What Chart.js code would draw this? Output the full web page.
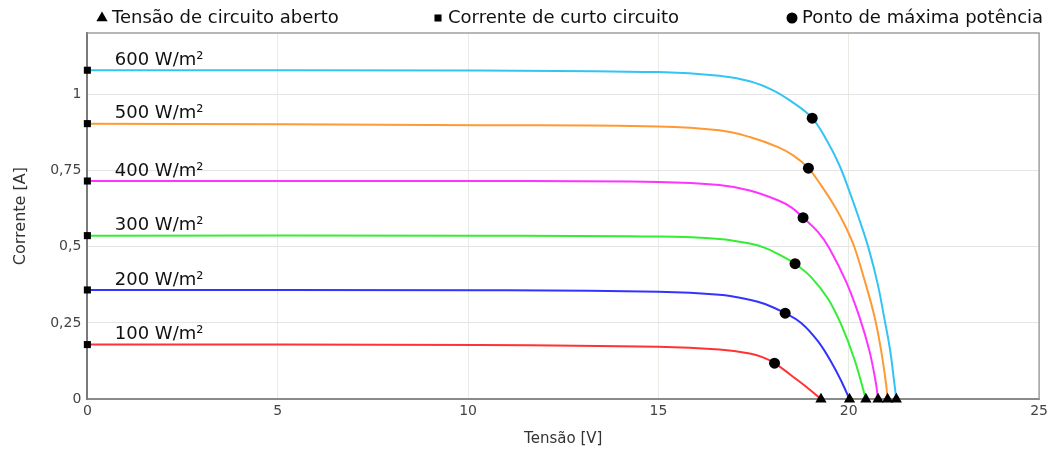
<!DOCTYPE html>
<html>
<head>
<meta charset="utf-8">
<script src="https://cdn.jsdelivr.net/npm/chart.js@4.4.1/dist/chart.umd.min.js"></script>
<style>
  html, body { margin: 0; padding: 0; background: #fff; }
  #wrap { width: 1052px; height: 454px; }
</style>
</head>
<body>
<div id="wrap"><canvas id="grafico"></canvas></div>
<script>
// curvas I-V
const irradiancias = ['100 W/m²', '200 W/m²', '300 W/m²', '400 W/m²', '500 W/m²', '600 W/m²'];
const cores = ['#ff3333', '#3333ff', '#33ee33', '#ff33ff', '#ff9933', '#33c4f5'];

const tensao100 = [0, 10.3, 15.0, 16.6, 17.4, 17.75, 18.05, 18.66, 19.01, 19.27];
const corrente100 = [0.179, 0.178, 0.172, 0.163, 0.15, 0.137, 0.118, 0.062, 0.028, 0];

const tensao200 = [0, 10.3, 15.0, 16.6, 17.4, 17.8, 18.33, 18.75, 19.19, 19.58, 19.84, 20.02];
const corrente200 = [0.358, 0.357, 0.352, 0.342, 0.326, 0.312, 0.282, 0.25, 0.19, 0.113, 0.05, 0];

const tensao300 = [0, 10.3, 15.0, 16.6, 17.4, 17.8, 18.14, 18.59, 19.01, 19.45, 19.8, 20.15, 20.45];
const corrente300 = [0.536, 0.536, 0.533, 0.525, 0.51, 0.496, 0.476, 0.444, 0.4, 0.33, 0.245, 0.13, 0];

const tensao400 = [0, 10.3, 15.0, 16.6, 17.4, 18.14, 18.5, 18.8, 19.19, 19.49, 19.93, 20.28, 20.54, 20.71, 20.77];
const corrente400 = [0.715, 0.715, 0.712, 0.702, 0.684, 0.652, 0.628, 0.595, 0.548, 0.495, 0.385, 0.27, 0.16, 0.055, 0];

const tensao500 = [0, 10.3, 15.0, 16.6, 17.4, 18.14, 18.55, 18.94, 19.28, 19.63, 19.93, 20.15, 20.41, 20.67, 20.85, 20.98, 21.02];
const corrente500 = [0.903, 0.898, 0.894, 0.881, 0.859, 0.826, 0.798, 0.757, 0.7, 0.632, 0.562, 0.498, 0.392, 0.274, 0.16, 0.05, 0];

const tensao600 = [0, 10.3, 15.0, 16.6, 17.4, 18.0, 18.5, 19.04, 19.45, 19.76, 20.02, 20.28, 20.52, 20.76, 20.93, 21.09, 21.2, 21.25];
const corrente600 = [1.078, 1.077, 1.072, 1.06, 1.042, 1.013, 0.975, 0.921, 0.842, 0.765, 0.68, 0.588, 0.495, 0.378, 0.268, 0.158, 0.05, 0];

// pontos notáveis
const tensaoCircuitoAberto = [19.27, 20.02, 20.45, 20.77, 21.02, 21.25];
const correnteCurtoCircuito = [0.179, 0.358, 0.536, 0.715, 0.903, 1.078];
const tensaoMaxPotencia = [18.05, 18.33, 18.59, 18.8, 18.94, 19.04];
const correnteMaxPotencia = [0.118, 0.282, 0.444, 0.595, 0.757, 0.921];

const ticksY = [0, 0.25, 0.5, 0.75, 1];

const tensoes = [tensao100, tensao200, tensao300, tensao400, tensao500, tensao600];
const correntes = [corrente100, corrente200, corrente300, corrente400, corrente500, corrente600];

const fonte = '"DejaVu Sans", sans-serif';
const pares = (xs, ys) => xs.map((x, i) => ({ x: x, y: ys[i] }));

const curvas = tensoes.map((t, i) => ({
    label: irradiancias[i],
    data: pares(t, correntes[i]),
    showLine: true,
    borderColor: cores[i],
    backgroundColor: cores[i],
    borderWidth: 2,
    pointRadius: 0,
    tension: 0.4,
    order: 2
}));

const marcadores = [
    {
        label: 'Tensão de circuito aberto',
        data: tensaoCircuitoAberto.map(v => ({ x: v, y: 0 })),
        pointStyle: 'triangle',
        pointRadius: 6.5
    },
    {
        label: 'Corrente de curto circuito',
        data: correnteCurtoCircuito.map(c => ({ x: 0, y: c })),
        pointStyle: 'rect',
        pointRadius: 5
    },
    {
        label: 'Ponto de máxima potência',
        data: pares(tensaoMaxPotencia, correnteMaxPotencia),
        pointStyle: 'circle',
        pointRadius: 5.5
    }
].map(d => Object.assign(d, {
    showLine: false,
    backgroundColor: '#000',
    borderColor: '#000',
    borderWidth: 0,
    clip: false,
    order: 1
}));

// início de cada item da legenda (px)
const legendaX = [96, 432, 786];

// moldura, legenda e rótulos das curvas
const extras = {
    id: 'extras',
    beforeDatasetsDraw(chart) {
        const { ctx, chartArea: a } = chart;
        ctx.save();
        ctx.strokeStyle = '#a0a0a0';
        ctx.lineWidth = 1.5;
        ctx.beginPath();
        ctx.moveTo(a.left, a.top);
        ctx.lineTo(a.right, a.top);
        ctx.lineTo(a.right, a.bottom);
        ctx.stroke();
        ctx.restore();
    },
    afterDatasetsDraw(chart) {
        const { ctx, scales } = chart;
        ctx.save();
        ctx.font = '18px ' + fonte;
        ctx.fillStyle = '#111';
        ctx.textBaseline = 'bottom';
        irradiancias.forEach((txt, i) => {
            ctx.fillText(txt, scales.x.getPixelForValue(0.72), scales.y.getPixelForValue(correnteCurtoCircuito[i]) - 1);
        });
        ctx.textBaseline = 'middle';
        marcadores.forEach((m, i) => {
            const x0 = legendaX[i];
            ctx.fillStyle = '#000';
            Chart.helpers.drawPoint(ctx, { pointStyle: m.pointStyle, radius: m.pointRadius, borderWidth: 0 }, x0 + 6, 18);
            ctx.fillStyle = '#111';
            ctx.fillText(m.label, x0 + 16, 18);
        });
        ctx.restore();
    }
};

new Chart(document.getElementById('grafico'), {
    type: 'scatter',
    data: { datasets: [...curvas, ...marcadores] },
    options: {
        responsive: true,
        maintainAspectRatio: false,
        animation: false,
        layout: { padding: { left: 7, right: 0, top: 33, bottom: 2 } },
        plugins: {
            legend: { display: false },
            tooltip: { enabled: false }
        },
        scales: {
            x: {
                type: 'linear',
                min: 0,
                max: 25,
                ticks: { stepSize: 5, color: '#444', font: { family: fonte, size: 14 }, padding: 4 },
                grid: { color: '#e6ece4', drawTicks: false },
                border: { color: '#8a8a8a', width: 2 },
                title: { display: true, text: 'Tensão [V]', color: '#333', font: { family: fonte, size: 15 }, padding: { top: 6, bottom: 4 } }
            },
            y: {
                type: 'linear',
                min: 0,
                max: 1.2,
                afterBuildTicks: axis => { axis.ticks = ticksY.map(v => ({ value: v })); },
                ticks: {
                    color: '#444',
                    font: { family: fonte, size: 14 },
                    padding: 6,
                    callback: v => String(v).replace('.', ',')
                },
                grid: { color: '#e4e4e4', drawTicks: false },
                border: { color: '#7a7a7a', width: 2 },
                title: { display: true, text: 'Corrente [A]', color: '#333', font: { family: fonte, size: 16 }, padding: { top: 4, bottom: 14 } }
            }
        }
    },
    plugins: [extras]
});
</script>
</body>
</html>
